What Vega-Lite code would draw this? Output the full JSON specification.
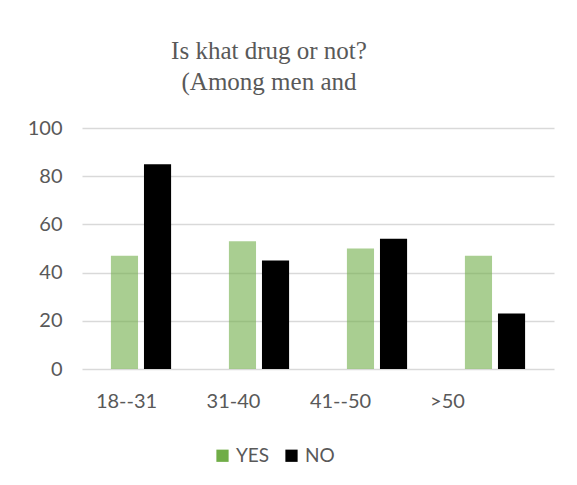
{
  "$schema": "https://vega.github.io/schema/vega-lite/v6.json",
  "width": 472,
  "height": 241,
  "autosize": {"type": "none"},
  "padding": {"left": 82, "top": 128, "right": 23, "bottom": 116},
  "background": "white",
  "title": {
    "text": ["Is khat drug or not?", "(Among men and"],
    "font": "Liberation Serif",
    "fontSize": 25,
    "fontWeight": "normal",
    "color": "#595959",
    "lineHeight": 31,
    "anchor": "middle",
    "dx": -49,
    "offset": 23
  },
  "data": {
    "values": [
      {"age": "18--31", "answer": "YES", "value": 47},
      {"age": "18--31", "answer": "NO", "value": 85},
      {"age": "31-40", "answer": "YES", "value": 53},
      {"age": "31-40", "answer": "NO", "value": 45},
      {"age": "41--50", "answer": "YES", "value": 50},
      {"age": "41--50", "answer": "NO", "value": 54},
      {"age": ">50", "answer": "YES", "value": 47},
      {"age": ">50", "answer": "NO", "value": 23}
    ]
  },
  "mark": {"type": "bar"},
  "encoding": {
    "x": {
      "field": "age",
      "type": "nominal",
      "sort": ["18--31", "31-40", "41--50", ">50"],
      "scale": {"paddingInner": 0.49, "paddingOuter": 0.245},
      "axis": {
        "title": null,
        "labelAngle": 0,
        "domain": false,
        "ticks": false,
        "labelFont": "Lato",
        "labelFontSize": 20,
        "labelColor": "#595959",
        "labelPadding": 22,
        "labelOffset": {"expr": "-14.5 - 11 * indexof(['18--31','31-40','41--50','>50'], datum.value)"}
      }
    },
    "xOffset": {
      "field": "answer",
      "type": "nominal",
      "sort": ["YES", "NO"],
      "scale": {"paddingInner": 0.18, "paddingOuter": 0}
    },
    "y": {
      "field": "value",
      "type": "quantitative",
      "scale": {"domain": [0, 100]},
      "axis": {
        "title": null,
        "values": [0, 20, 40, 60, 80, 100],
        "domain": false,
        "ticks": false,
        "labelFont": "Lato",
        "labelFontSize": 20,
        "labelColor": "#595959",
        "labelPadding": 20,
        "gridColor": "#D9D9D9",
        "gridWidth": 1.6
      }
    },
    "color": {
      "field": "answer",
      "type": "nominal",
      "sort": ["YES", "NO"],
      "scale": {"domain": ["YES", "NO"], "range": ["#70AD47", "#000000"]},
      "legend": {
        "title": null,
        "orient": "none",
        "direction": "horizontal",
        "legendX": 131,
        "legendY": 318,
        "symbolType": "square",
        "symbolSize": 150,
        "symbolOffset": 0,
        "symbolStrokeWidth": 0,
        "symbolOpacity": 1,
        "labelFont": "Lato",
        "labelFontSize": 19,
        "labelColor": "#595959",
        "labelOffset": 4,
        "columnPadding": 12
      }
    },
    "opacity": {
      "condition": {"test": "datum.answer === 'YES'", "value": 0.6},
      "value": 1
    }
  },
  "config": {
    "view": {"stroke": null}
  }
}
